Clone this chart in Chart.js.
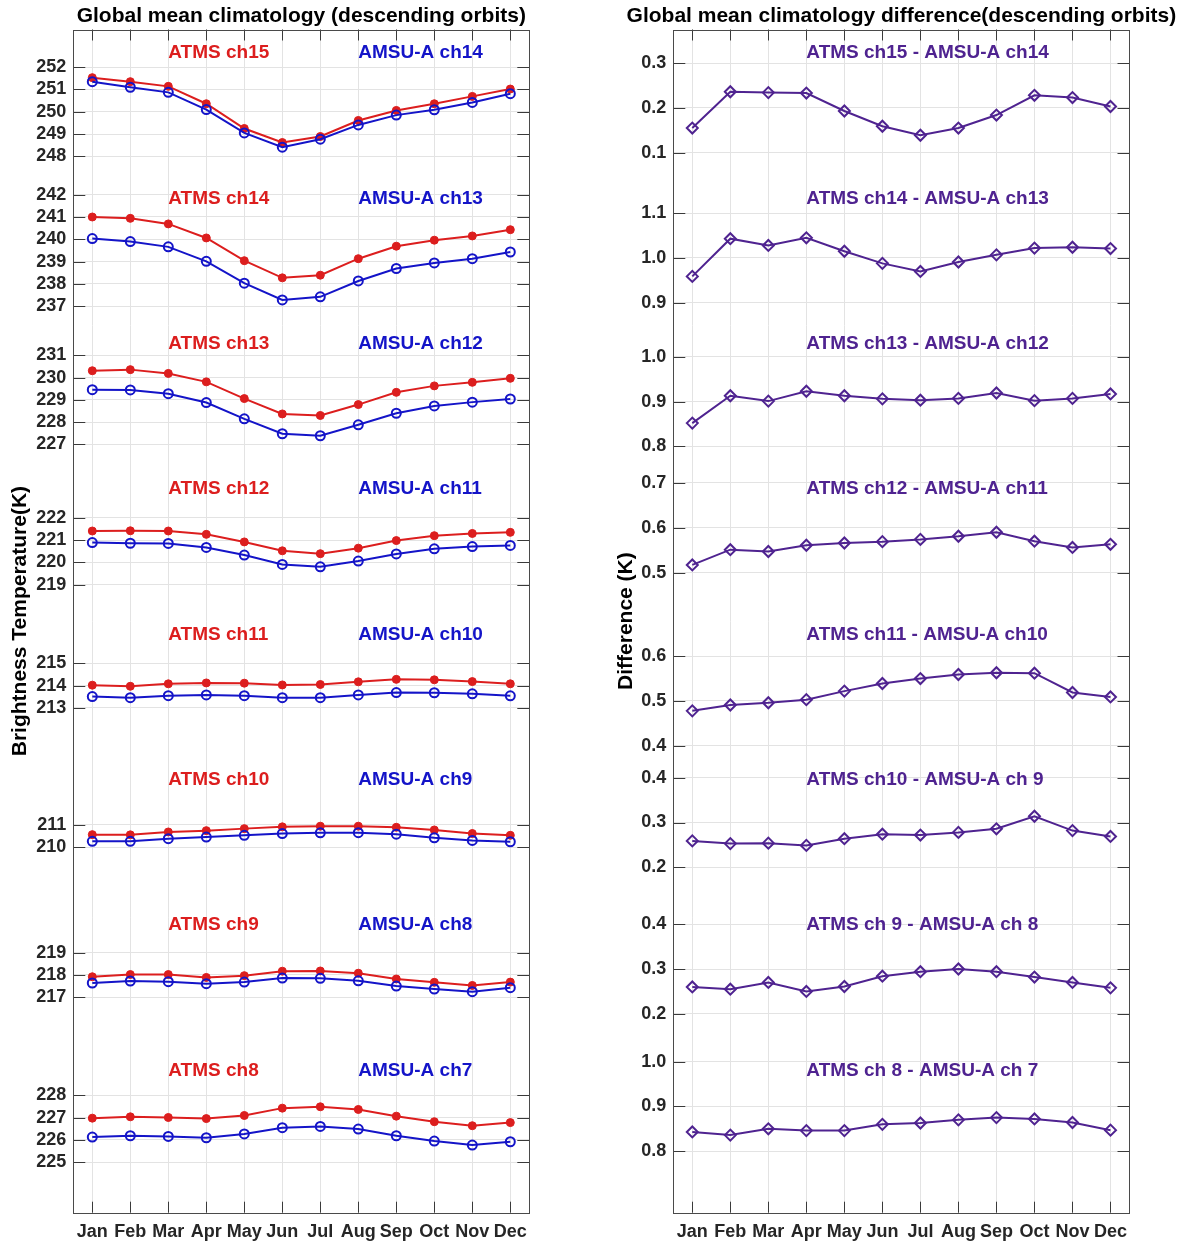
<!DOCTYPE html>
<html>
<head>
<meta charset="utf-8">
<script src="https://cdn.jsdelivr.net/npm/chart.js@4.4.1/dist/chart.umd.min.js"></script>
<style>
    html, body { margin: 0; padding: 0; background: #fff; overflow: hidden; }
    #wrap { position: relative; width: 1187px; height: 1243px; }
    .panel { position: absolute; top: 0; height: 1243px; }
    #left { left: 0; width: 560px; }
    #right { left: 590px; width: 597px; }
</style>
</head>
<body>
<div id="wrap">
    <div class="panel" id="left"><canvas id="climChart"></canvas></div>
    <div class="panel" id="right"><canvas id="diffChart"></canvas></div>
</div>
<script>
const months = ['Jan', 'Feb', 'Mar', 'Apr', 'May', 'Jun', 'Jul', 'Aug', 'Sep', 'Oct', 'Nov', 'Dec'];

// left panel, top band first: ATMS (red) / AMSU-A (blue), K
const atms15 = [251.53, 251.35, 251.14, 250.36, 249.25, 248.62, 248.89, 249.61, 250.06, 250.36, 250.69, 251.02];
const amsu14 = [251.35, 251.10, 250.87, 250.10, 249.05, 248.41, 248.77, 249.41, 249.85, 250.09, 250.42, 250.81];
const atms14 = [241.00, 240.94, 240.69, 240.06, 239.04, 238.27, 238.39, 239.13, 239.69, 239.96, 240.15, 240.43];
const amsu13 = [240.03, 239.90, 239.66, 239.01, 238.03, 237.28, 237.42, 238.13, 238.69, 238.94, 239.13, 239.43];
const atms13 = [230.31, 230.36, 230.19, 229.81, 229.06, 228.37, 228.30, 228.79, 229.34, 229.63, 229.79, 229.97];
const amsu12 = [229.46, 229.45, 229.28, 228.88, 228.15, 227.48, 227.39, 227.88, 228.40, 228.73, 228.90, 229.04];
const atms12 = [221.41, 221.42, 221.41, 221.26, 220.92, 220.52, 220.39, 220.64, 220.98, 221.20, 221.30, 221.35];
const amsu11 = [220.89, 220.86, 220.85, 220.67, 220.33, 219.91, 219.80, 220.06, 220.38, 220.61, 220.71, 220.76];
const atms11 = [214.02, 213.97, 214.08, 214.12, 214.11, 214.03, 214.05, 214.17, 214.28, 214.26, 214.18, 214.08];
const amsu10 = [213.51, 213.46, 213.55, 213.58, 213.55, 213.46, 213.46, 213.58, 213.69, 213.68, 213.63, 213.54];
const atms10 = [210.56, 210.55, 210.68, 210.74, 210.83, 210.91, 210.94, 210.94, 210.89, 210.77, 210.61, 210.53];
const amsu9 = [210.26, 210.26, 210.38, 210.45, 210.53, 210.61, 210.64, 210.65, 210.58, 210.42, 210.30, 210.24];
const atms9 = [217.92, 218.02, 218.02, 217.89, 217.97, 218.17, 218.18, 218.08, 217.82, 217.67, 217.53, 217.68];
const amsu8 = [217.64, 217.73, 217.70, 217.61, 217.68, 217.86, 217.85, 217.74, 217.50, 217.37, 217.25, 217.43];
const atms8 = [226.98, 227.04, 227.01, 226.96, 227.10, 227.43, 227.49, 227.37, 227.07, 226.82, 226.64, 226.78];
const amsu7 = [226.13, 226.19, 226.16, 226.10, 226.27, 226.55, 226.61, 226.49, 226.19, 225.95, 225.77, 225.92];

// right panel, ATMS minus AMSU-A, K
const diff15 = [0.155, 0.236, 0.234, 0.233, 0.193, 0.159, 0.139, 0.155, 0.184, 0.228, 0.223, 0.203];
const diff14 = [0.959, 1.043, 1.028, 1.045, 1.015, 0.988, 0.970, 0.991, 1.007, 1.022, 1.024, 1.021];
const diff13 = [0.852, 0.913, 0.901, 0.923, 0.913, 0.906, 0.903, 0.907, 0.919, 0.902, 0.907, 0.917];
const diff12 = [0.517, 0.551, 0.547, 0.561, 0.566, 0.569, 0.574, 0.581, 0.590, 0.570, 0.556, 0.563];
const diff11 = [0.478, 0.491, 0.496, 0.503, 0.522, 0.539, 0.550, 0.559, 0.563, 0.562, 0.519, 0.509];
const diff10 = [0.259, 0.253, 0.254, 0.249, 0.264, 0.274, 0.272, 0.278, 0.286, 0.314, 0.282, 0.269];
const diff9 = [0.260, 0.255, 0.270, 0.250, 0.261, 0.284, 0.294, 0.300, 0.294, 0.282, 0.270, 0.258];
const diff8 = [0.843, 0.836, 0.850, 0.846, 0.846, 0.860, 0.863, 0.870, 0.875, 0.872, 0.864, 0.847];

const atmsLabels = ['ATMS ch15', 'ATMS ch14', 'ATMS ch13', 'ATMS ch12', 'ATMS ch11', 'ATMS ch10', 'ATMS ch9', 'ATMS ch8'];
const amsuLabels = ['AMSU-A ch14', 'AMSU-A ch13', 'AMSU-A ch12', 'AMSU-A ch11', 'AMSU-A ch10', 'AMSU-A ch9', 'AMSU-A ch8', 'AMSU-A ch7'];
const diffLabels = [
    'ATMS ch15 - AMSU-A ch14', 'ATMS ch14 - AMSU-A ch13', 'ATMS ch13 - AMSU-A ch12', 'ATMS ch12 - AMSU-A ch11',
    'ATMS ch11 - AMSU-A ch10', 'ATMS ch10 - AMSU-A ch 9', 'ATMS ch 9 - AMSU-A ch 8', 'ATMS ch 8 - AMSU-A ch 7'
];

const climTicks = [
    [248, 249, 250, 251, 252], [237, 238, 239, 240, 241, 242], [227, 228, 229, 230, 231], [219, 220, 221, 222],
    [213, 214, 215], [210, 211], [217, 218, 219], [225, 226, 227, 228]
];
const diffTicks = [
    [0.1, 0.2, 0.3], [0.9, 1.0, 1.1], [0.8, 0.9, 1.0], [0.5, 0.6, 0.7],
    [0.4, 0.5, 0.6], [0.2, 0.3, 0.4], [0.2, 0.3, 0.4], [0.8, 0.9, 1.0]
];

const atmsSeries = [atms15, atms14, atms13, atms12, atms11, atms10, atms9, atms8];
const amsuSeries = [amsu14, amsu13, amsu12, amsu11, amsu10, amsu9, amsu8, amsu7];
const diffSeries = [diff15, diff14, diff13, diff12, diff11, diff10, diff9, diff8];

// axis limits of each stacked band
const climRanges = [
    [247.17, 253.69], [236.37, 242.89], [226.05, 232.58], [217.82, 224.35],
    [210.83, 217.35], [207.55, 214.08], [214.765, 221.295], [222.735, 230.175]
];
const diffRanges = [
    [0.0507, 0.3747], [0.8613, 1.1853], [0.7573, 1.0813], [0.4143, 0.7388],
    [0.3767, 0.7008], [0.1236, 0.4477], [0.1261, 0.4502], [0.6629, 1.0325]
];
const bandWeights = [1, 1, 1, 1, 1, 1, 1, 1.14];

const RED = '#dc1e1e';
const BLUE = '#1414c8';
const PURPLE = '#4f2390';
const INK = '#262626';
const GRID = '#e3e3e3';
const FONT = "'Liberation Sans', Arial, Helvetica, sans-serif";

Chart.defaults.font.family = FONT;

function bandScales(ranges, ticks, fmt, axisWidth) {
    const scales = {
        x: {
            type: 'category',
            offset: true,
            grid: { color: GRID, drawTicks: false },
            border: { display: false },
            ticks: { color: INK, font: { size: 18, weight: 'bold' }, padding: 9, maxRotation: 0, autoSkip: false },
            afterFit: (s) => { s.height = 30.3; },
        },
    };
    ranges.forEach((r, i) => {
        scales['b' + i] = {
            type: 'linear',
            position: 'left',
            stack: 'bands',
            stackWeight: bandWeights[i],
            weight: ranges.length - i,
            min: r[0],
            max: r[1],
            grid: { color: GRID, drawTicks: false },
            border: { display: false },
            ticks: { color: INK, font: { size: 18, weight: 'bold' }, padding: 7, autoSkip: false, callback: fmt },
            afterBuildTicks: (s) => { s.ticks = ticks[i].map((v) => ({ value: v })); },
            afterFit: (s) => { s.width = axisWidth; },
        };
    });
    return scales;
}

function decor(cfg) {
    return {
        id: 'decor',
        afterDraw(chart) {
            const { ctx, chartArea: a, scales } = chart;
            ctx.save();
            ctx.strokeStyle = '#3a3a3a';
            ctx.lineWidth = 1;
            ctx.beginPath();
            Object.values(scales).forEach((s) => {
                if (s.axis === 'y') {
                    s.ticks.forEach((t) => {
                        const y = Math.round(s.getPixelForValue(t.value)) + 0.5;
                        ctx.moveTo(a.left, y); ctx.lineTo(a.left + 12, y);
                        ctx.moveTo(a.right - 12, y); ctx.lineTo(a.right, y);
                    });
                } else {
                    s.ticks.forEach((t, i) => {
                        const x = Math.round(s.getPixelForTick(i)) + 0.5;
                        ctx.moveTo(x, a.top); ctx.lineTo(x, a.top + 11);
                        ctx.moveTo(x, a.bottom - 11); ctx.lineTo(x, a.bottom);
                    });
                }
            });
            ctx.stroke();
            ctx.strokeStyle = '#4a4a4a';
            ctx.strokeRect(Math.round(a.left) + 0.5, Math.round(a.top) + 0.5,
                Math.round(a.right - a.left), Math.round(a.bottom - a.top));

            const x = scales.x;
            ctx.font = `bold 19px ${FONT}`;
            ctx.textAlign = 'left';
            ctx.textBaseline = 'middle';
            cfg.labels.forEach((band, i) => {
                const top = scales['b' + i].top;
                band.forEach((l) => {
                    ctx.fillStyle = l.color;
                    ctx.fillText(l.text, x.getPixelForTick(l.at), top + 23.5);
                });
            });

            ctx.fillStyle = '#000';
            ctx.font = `bold 21px ${FONT}`;
            ctx.textAlign = 'center';
            ctx.fillText(cfg.title, (a.left + a.right) / 2, 16);
            ctx.translate(cfg.yTitleX, (a.top + a.bottom) / 2);
            ctx.rotate(-Math.PI / 2);
            ctx.fillText(cfg.yTitle, 0, 0);
            ctx.restore();
        },
    };
}

const baseOptions = (scales, padRight) => ({
    responsive: true,
    maintainAspectRatio: false,
    animation: false,
    layout: { padding: { top: 29.5, right: padRight, bottom: 0, left: 0 } },
    plugins: { legend: { display: false }, tooltip: { enabled: false } },
    elements: { line: { borderWidth: 2, tension: 0 } },
    scales,
});

const climDatasets = [];
atmsSeries.forEach((data, i) => {
    climDatasets.push({
        label: atmsLabels[i], data, yAxisID: 'b' + i, order: 2,
        borderColor: RED, backgroundColor: RED,
        pointStyle: 'circle', pointRadius: 4, pointBorderWidth: 1,
    });
    climDatasets.push({
        label: amsuLabels[i], data: amsuSeries[i], yAxisID: 'b' + i, order: 1,
        borderColor: BLUE, backgroundColor: 'rgba(0,0,0,0)',
        pointStyle: 'circle', pointRadius: 4.5, pointBorderWidth: 2,
    });
});

new Chart(document.getElementById('climChart'), {
    type: 'line',
    data: { labels: months, datasets: climDatasets },
    options: baseOptions(bandScales(climRanges, climTicks, (v) => String(v), 73.3), 30.7),
    plugins: [decor({
        title: 'Global mean climatology (descending orbits)',
        yTitle: 'Brightness Temperature(K)',
        yTitleX: 20,
        labels: atmsLabels.map((t, i) => [
            { text: t, color: RED, at: 2 },
            { text: amsuLabels[i], color: BLUE, at: 7 },
        ]),
    })],
});

new Chart(document.getElementById('diffChart'), {
    type: 'line',
    data: {
        labels: months,
        datasets: diffSeries.map((data, i) => ({
            label: diffLabels[i], data, yAxisID: 'b' + i,
            borderColor: PURPLE, backgroundColor: 'rgba(0,0,0,0)',
            pointStyle: 'rectRot', pointRadius: 5.5, pointBorderWidth: 2,
        })),
    },
    options: baseOptions(bandScales(diffRanges, diffTicks, (v) => v.toFixed(1), 83.3), 57.5),
    plugins: [decor({
        title: 'Global mean climatology difference(descending orbits)',
        yTitle: 'Difference (K)',
        yTitleX: 36,
        labels: diffLabels.map((t) => [{ text: t, color: PURPLE, at: 3 }]),
    })],
});
</script>
</body>
</html>
